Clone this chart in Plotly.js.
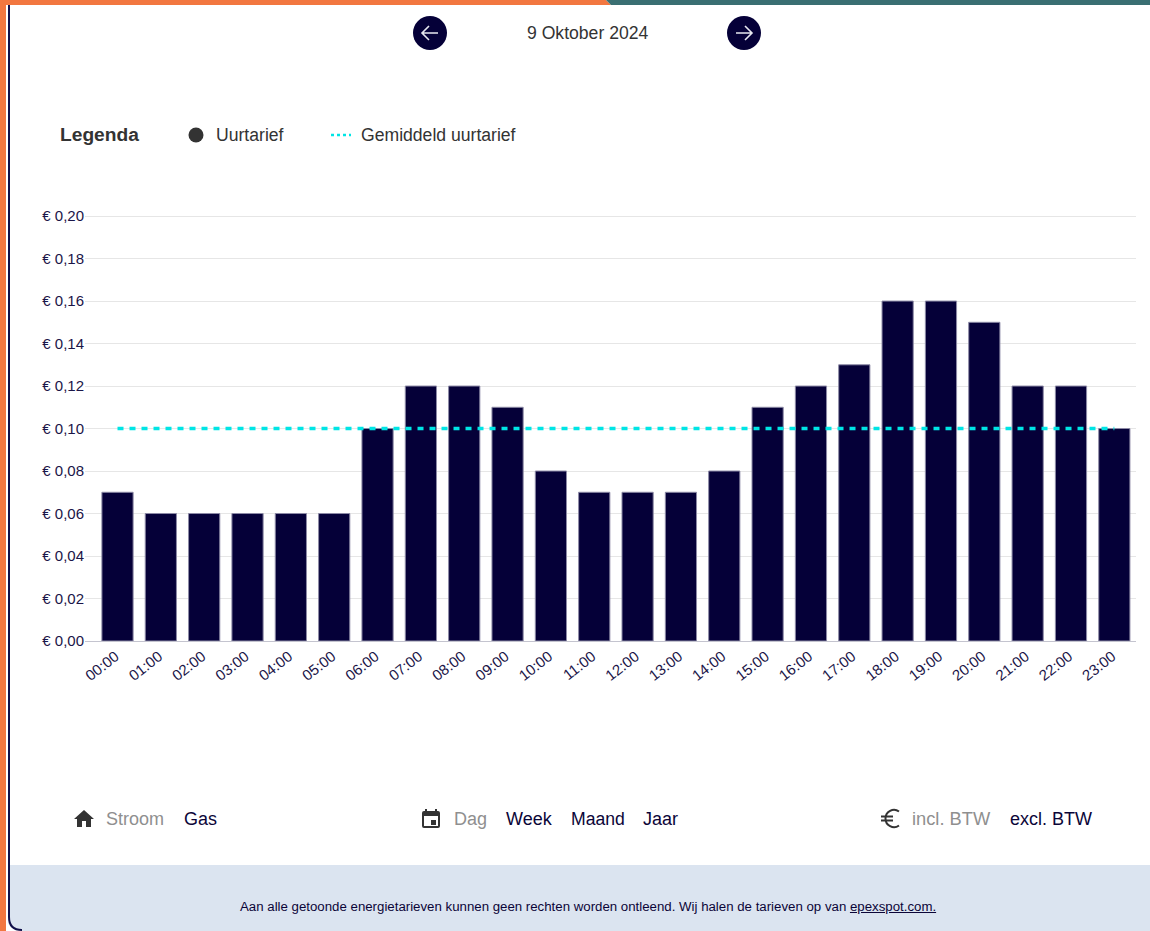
<!DOCTYPE html>
<html><head><meta charset="utf-8">
<script src="https://cdn.plot.ly/plotly-3.0.1.min.js"></script>
<style>
html,body{margin:0;padding:0;background:#fff;width:1150px;height:931px;overflow:hidden;font-family:"Liberation Sans",Arial,sans-serif}
.a{position:absolute;white-space:nowrap;line-height:1}
#chart{position:absolute;left:0;top:0;width:1150px;height:931px}
.g{color:#8f8f8f}.n{color:#0b0538}.d{color:#333}
.t{font-size:18px;top:810px}
</style></head><body>
<div class="a" style="left:0;top:0;width:6px;height:931px;background:#f27740"></div>
<div class="a" style="left:8px;top:865px;width:1142px;height:66px;background:#dbe4f0"></div>
<svg class="a" style="left:0;top:0" width="1150" height="931">
<path d="M0 0H606L611 5H0Z" fill="#f27740"/><path d="M606 0H1150V5H611Z" fill="#3a6f72"/>
<path d="M6 916V931H22Q8 931 6 916Z" fill="#fff"/>
<path d="M9 5V917Q9 930 22 930" fill="none" stroke="#11104a" stroke-width="2"/>
<circle cx="430" cy="33" r="17" fill="#050038"/><path d="M438 33H423M429 26L422 33L429 40" fill="none" stroke="#e8e8f0" stroke-width="1.6"/>
<circle cx="744" cy="33" r="17" fill="#050038"/><path d="M736 33H751M745 26L752 33L745 40" fill="none" stroke="#e8e8f0" stroke-width="1.6"/>
<circle cx="196" cy="135" r="7.5" fill="#333"/>
<line x1="331" y1="135" x2="351" y2="135" stroke="#00e5e5" stroke-width="2.5" stroke-dasharray="3 3"/>
<path d="M84 810L74 819H77V827H82V821H86V827H91V819H94Z" fill="#333"/>
<path fill="#333" fill-rule="evenodd" d="M425 809H427V811H435V809H437V811H438A2 2 0 0 1 440 813V826A2 2 0 0 1 438 828H424A2 2 0 0 1 422 826V813A2 2 0 0 1 424 811H425ZM424 816V826H438V816ZM431 820H436V825H431Z"/>
<path d="M899 811.5A8.5 8.5 0 0 0 885.5 818.5A8.5 8.5 0 0 0 899 825.5M881 816.5H893M881 820.5H893" fill="none" stroke="#333" stroke-width="2"/>
</svg>
<div class="a d" style="left:527px;top:25px;font-size:17.6px">9 Oktober 2024</div>
<div class="a" style="left:60px;top:125px;font-size:19.2px;font-weight:bold;color:#333">Legenda</div>
<div class="a d" style="left:216px;top:127px;font-size:17.6px">Uurtarief</div>
<div class="a d" style="left:361px;top:127px;font-size:17.6px">Gemiddeld uurtarief</div>
<div class="a g t" style="left:106px">Stroom</div>
<div class="a n t" style="left:184px">Gas</div>
<div class="a g t" style="left:454px">Dag</div>
<div class="a n t" style="left:506px">Week</div>
<div class="a n" style="left:571px;top:810.5px;font-size:17.6px">Maand</div>
<div class="a n t" style="left:643px">Jaar</div>
<div class="a g t" style="left:912px;font-size:18.3px">incl. BTW</div>
<div class="a n t" style="left:1010px">excl. BTW</div>
<div class="a n" style="left:240px;top:900px;font-size:13.25px">Aan alle getoonde energietarieven kunnen geen rechten worden ontleend. Wij halen de tarieven op van <u>epexspot.com.</u></div>
<div id="chart"></div>
<script>
const hours = ["00:00","01:00","02:00","03:00","04:00","05:00","06:00","07:00","08:00","09:00","10:00","11:00","12:00","13:00","14:00","15:00","16:00","17:00","18:00","19:00","20:00","21:00","22:00","23:00"];
const uurtarief = [0.07,0.06,0.06,0.06,0.06,0.06,0.10,0.12,0.12,0.11,0.08,0.07,0.07,0.07,0.08,0.11,0.12,0.13,0.16,0.16,0.15,0.12,0.12,0.10];
const gemiddeld = [0.10,0.10,0.10,0.10,0.10,0.10,0.10,0.10,0.10,0.10,0.10,0.10,0.10,0.10,0.10,0.10,0.10,0.10,0.10,0.10,0.10,0.10,0.10,0.10];
const axisText = "#1b1548";
Plotly.newPlot("chart",[
 {type:"bar",name:"Uurtarief",x:hours,y:uurtarief,width:0.72,marker:{color:"#050038",line:{color:"#8d8aa6",width:1}},hoverinfo:"x+y"},
 {type:"scatter",mode:"lines",name:"Gemiddeld uurtarief",x:hours,y:gemiddeld,line:{color:"#00e5e5",width:3.5,dash:"6px,6px"},hoverinfo:"y"}
],{
 width:1150,height:931,showlegend:false,
 paper_bgcolor:"rgba(0,0,0,0)",plot_bgcolor:"rgba(0,0,0,0)",
 separators:",.",
 margin:{l:85,r:14,t:215,b:290,pad:0},
 font:{family:"Liberation Sans, Arial, sans-serif",size:15,color:axisText},
 xaxis:{type:"category",categoryorder:"array",categoryarray:hours,range:[-0.75,23.5],tickangle:-38,ticklabelshift:-2,tickfont:{size:15,color:axisText},showgrid:false,ticks:"",showline:true,linecolor:"#c4c4cf",linewidth:1,zeroline:false,fixedrange:true},
 yaxis:{range:[0,0.2005],tickmode:"linear",tick0:0,dtick:0.02,tickformat:".2f",tickprefix:"€ ",showtickprefix:"all",tickfont:{size:15,color:axisText},gridcolor:"#e6e6e6",gridwidth:1,zeroline:false,showline:false,ticks:"",fixedrange:true}
},{displayModeBar:false,staticPlot:true});
</script>
</body></html>
